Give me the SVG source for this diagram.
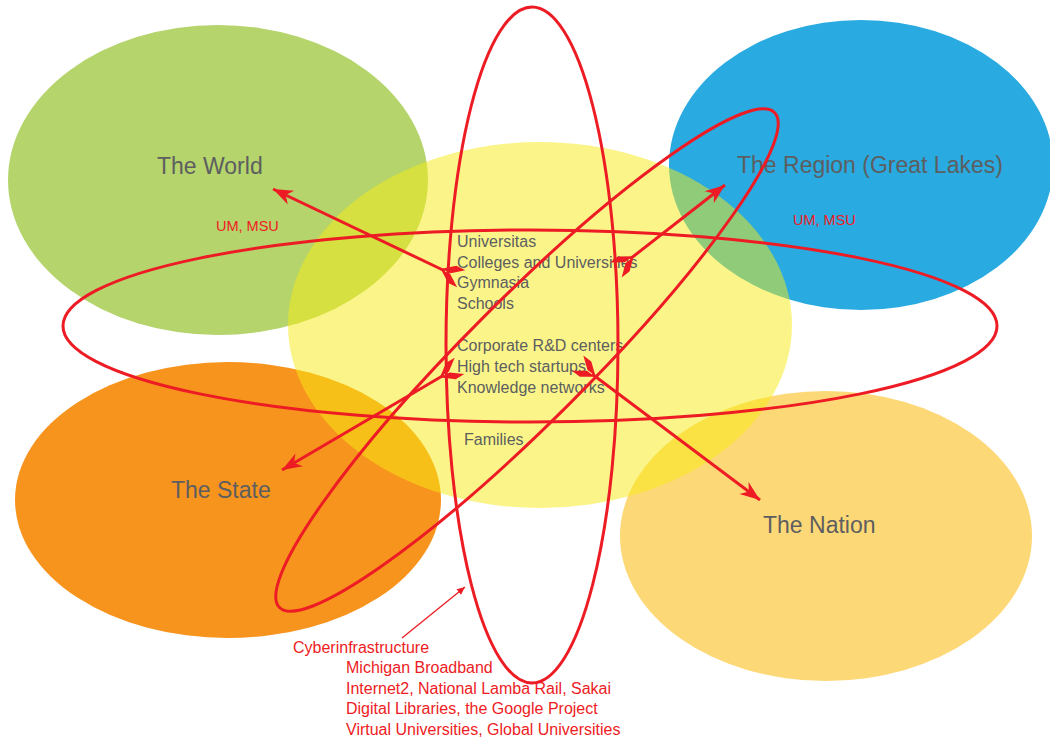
<svg xmlns="http://www.w3.org/2000/svg" width="1050" height="740" viewBox="0 0 1050 740">
<defs>
<style>
.lbl{font-family:"Liberation Sans",Arial,sans-serif;font-size:23px;fill:#5d5e60}
.item{font-family:"Liberation Sans",Arial,sans-serif;font-size:16px;fill:#5d5e60}
.red{font-family:"Liberation Sans",Arial,sans-serif;fill:#ed1c24}
.orbit{fill:none;stroke:#ed1c24;stroke-width:3}
.arrow{fill:none;stroke:#ed1c24;stroke-width:3}
</style>
<marker id="head" markerUnits="userSpaceOnUse" viewBox="-21 -10 22 20" refX="0" refY="0" markerWidth="22" markerHeight="20" orient="auto">
<path d="M0,0 L-20,-7.5 L-14,0 L-20,7.5 Z" fill="#ed1c24"/>
</marker>
<marker id="tail" markerUnits="userSpaceOnUse" viewBox="-24 -12 30 24" refX="0" refY="0" markerWidth="30" markerHeight="24" orient="auto">
<path d="M4,-0.5 L-6,-0.5 L-18,-9.5 L-8,-9.5 Z M4,0.5 L-6,0.5 L-18,9.5 L-8,9.5 Z" fill="#ed1c24"/>
</marker>
<marker id="small" markerUnits="userSpaceOnUse" viewBox="-9 -5 10 10" refX="0" refY="0" markerWidth="10" markerHeight="10" orient="auto">
<path d="M0,0 L-8,-3.5 L-8,3.5 Z" fill="#ed1c24"/>
</marker>
</defs>

<g id="world"><ellipse cx="218" cy="180" rx="210" ry="155" fill="#b5d46c"/></g>
<g id="region"><ellipse cx="861" cy="165" rx="192" ry="145" fill="#29aae1"/></g>
<g id="state"><ellipse cx="228" cy="500" rx="213" ry="138" fill="#f7941e"/></g>
<g id="nation"><ellipse cx="826" cy="536" rx="206" ry="145" fill="#fdd877"/></g>
<g id="core"><ellipse cx="540" cy="325" rx="252" ry="183" fill="#f7ec14" fill-opacity="0.5"/></g>

<g id="world-label">
<text class="lbl" x="157" y="174">The World</text>
<text class="red" x="216" y="231" font-size="14.5">UM, MSU</text>
</g>
<g id="region-label">
<text class="lbl" x="737" y="173">The Region (Great Lakes)</text>
<text class="red" x="793" y="225" font-size="14.5">UM, MSU</text>
</g>
<g id="state-label"><text class="lbl" x="171" y="498">The State</text></g>
<g id="nation-label"><text class="lbl" x="763" y="533">The Nation</text></g>

<g id="core-label">
<text class="item" x="457" y="247">Universitas</text>
<text class="item" x="457" y="268">Colleges and Universities</text>
<text class="item" x="457" y="288">Gymnasia</text>
<text class="item" x="457" y="309">Schools</text>
<text class="item" x="457" y="351">Corporate R&amp;D centers</text>
<text class="item" x="457" y="372">High tech startups</text>
<text class="item" x="457" y="393">Knowledge networks</text>
<text class="item" x="464" y="445">Families</text>
</g>

<g id="cyberinfrastructure">
<text class="red" font-size="16" x="293" y="653">Cyberinfrastructure</text>
<text class="red" font-size="16" x="346" y="673">Michigan Broadband</text>
<text class="red" font-size="16" x="346" y="694">Internet2, National Lamba Rail, Sakai</text>
<text class="red" font-size="16" x="346" y="714">Digital Libraries, the Google Project</text>
<text class="red" font-size="16" x="346" y="735">Virtual Universities, Global Universities</text>
</g>

<g id="orbits">
<ellipse class="orbit" cx="530" cy="326" rx="467" ry="96"/>
<ellipse class="orbit" cx="532" cy="345" rx="86" ry="338"/>
<ellipse class="orbit" cx="527" cy="360" rx="350" ry="61" transform="rotate(-45 527 360)"/>
</g>

<g id="connectors">
<path class="arrow" d="M445,271 L273,189" marker-start="url(#tail)" marker-end="url(#head)"/>
<path class="arrow" d="M630,259 L725,185" marker-start="url(#tail)" marker-end="url(#head)"/>
<path class="arrow" d="M444,375 L282,470" marker-start="url(#tail)" marker-end="url(#head)"/>
<path class="arrow" d="M592,374 L760,500" marker-start="url(#tail)" marker-end="url(#head)"/>
<path d="M402,638 L465,587" fill="none" stroke="#ed1c24" stroke-width="1.3" marker-end="url(#small)"/>
</g>
</svg>
